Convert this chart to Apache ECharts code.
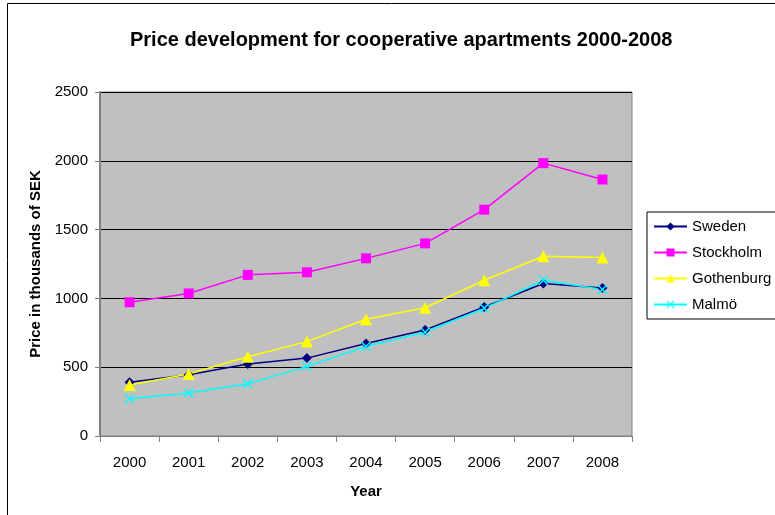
<!DOCTYPE html>
<html>
<head>
<meta charset="utf-8">
<script src="https://cdn.jsdelivr.net/npm/echarts@6/dist/echarts.min.js"></script>
<style>
  html, body { margin: 0; padding: 0; background: #fff; }
  #chart { width: 775px; height: 515px; }
</style>
</head>
<body>
<div id="chart"></div>
<script>
  // data (thousands of SEK)
  const years = ['2000', '2001', '2002', '2003', '2004', '2005', '2006', '2007', '2008']
  const sweden = [390, 445, 523, 566, 672, 771, 937, 1108, 1075]
  const stockholm = [972, 1036, 1171, 1190, 1291, 1400, 1645, 1983, 1864]
  const gothenburg = [370, 450, 576, 686, 848, 932, 1132, 1306, 1297]
  const malmo = [270, 313, 379, 506, 650, 754, 928, 1132, 1065]
  const yTicks = [0, 500, 1000, 1500, 2000, 2500]

  const font = 'Liberation Sans, Arial, sans-serif'
  const xMark = 'path://M0,1L1,0L5,4L9,0L10,1L6,5L10,9L9,10L5,6L1,10L0,9L4,5Z'

  function line(name, data, color, symbol, size) {
    return {
      name: name,
      type: 'line',
      data: data,
      symbol: symbol,
      symbolSize: size,
      showAllSymbol: true,
      lineStyle: { color: color, width: 1.5 },
      itemStyle: { color: color },
      emphasis: { disabled: true }
    }
  }

  let myChart = echarts.init(document.getElementById('chart'))
  myChart.setOption({
    backgroundColor: '#fff',
    animation: false,
    textStyle: { fontFamily: font },
    title: {
      text: 'Price development for cooperative apartments 2000-2008',
      left: 125,
      top: 25,
      textStyle: { fontSize: 20, fontWeight: 'bold', color: '#000', fontFamily: font }
    },
    grid: {
      left: 100,
      top: 92,
      width: 532,
      height: 344,
      show: true,
      backgroundColor: '#c0c0c0',
      borderColor: '#808080',
      borderWidth: 1
    },
    legend: {
      orient: 'vertical',
      left: 647,
      top: 212,
      width: 140,
      padding: [7, 30, 7, 6],
      itemGap: 11,
      itemWidth: 33,
      itemHeight: 10,
      borderColor: '#000',
      borderWidth: 1,
      textStyle: { fontSize: 15, color: '#000', fontFamily: font },
      data: ['Sweden', 'Stockholm', 'Gothenburg', 'Malmö']
    },
    xAxis: {
      type: 'category',
      data: years,
      boundaryGap: true,
      name: 'Year',
      nameLocation: 'middle',
      nameGap: 48,
      nameTextStyle: { fontSize: 15, fontWeight: 'bold', color: '#000' },
      axisLine: { lineStyle: { color: '#808080', width: 1 } },
      axisTick: { show: true, length: 6, lineStyle: { color: '#808080' } },
      axisLabel: { fontSize: 15, color: '#000', margin: 19 },
      splitLine: { show: false }
    },
    yAxis: {
      type: 'value',
      min: yTicks[0],
      max: yTicks[yTicks.length - 1],
      interval: 500,
      name: 'Price in thousands of SEK',
      nameLocation: 'middle',
      nameGap: 57,
      nameTextStyle: { fontSize: 15, fontWeight: 'bold', color: '#000' },
      axisLine: { show: true, lineStyle: { color: '#808080', width: 2 } },
      axisTick: { show: true, length: 5, lineStyle: { color: '#808080' } },
      axisLabel: { fontSize: 15, color: '#000', margin: 12, formatter: (v) => String(v) },
      splitLine: { show: true, lineStyle: { color: '#000', width: 1 } }
    },
    graphic: [{
      type: 'rect',
      shape: { x: 7.5, y: 3.5, width: 800, height: 600 },
      style: { fill: null, stroke: '#000', lineWidth: 1 },
      silent: true
    }],
    series: [
      line('Sweden', sweden, '#000080', 'diamond', 10),
      line('Stockholm', stockholm, '#ff00ff', 'rect', 10),
      line('Gothenburg', gothenburg, '#ffff00', 'triangle', 12),
      line('Malmö', malmo, '#00ffff', xMark, 10)
    ]
  })
</script>
</body>
</html>
